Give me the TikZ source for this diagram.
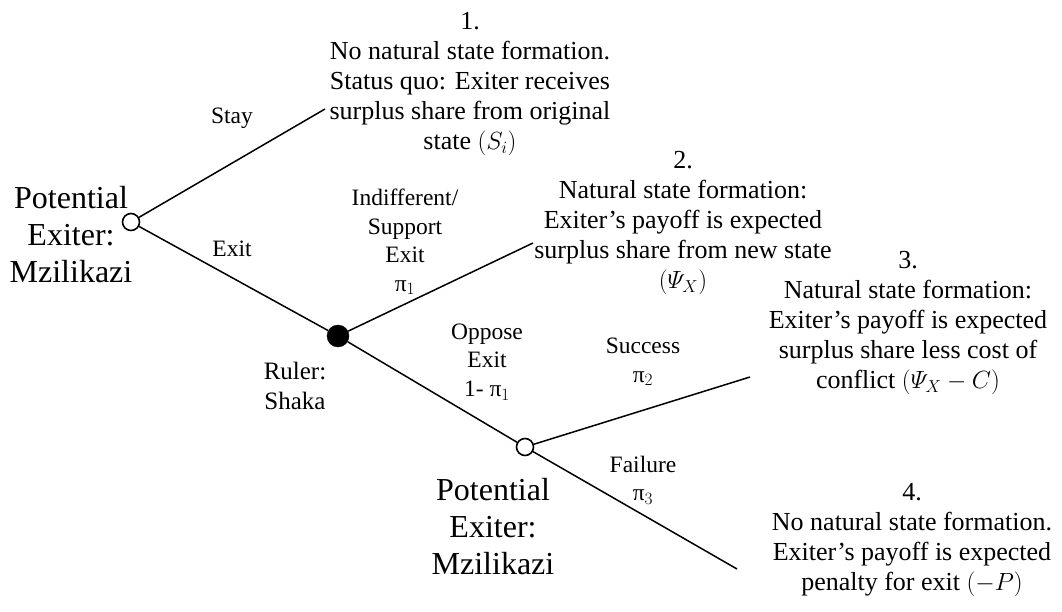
\documentclass[tikz,border=0pt]{standalone}
\usepackage{amsmath}
\usepackage{fontspec}
\setmainfont{Liberation Serif}
\usetikzlibrary{positioning}

\begin{document}
\begin{tikzpicture}[
    x=1pt, y=-1pt,
    exiter/.style={
        draw,
        circle,
        line width=1.6pt,
        fill=white,
        inner sep=0pt,
        minimum size=17pt
    },
    ruler/.style={
        draw,
        circle,
        fill=black,
        inner sep=0pt,
        minimum size=22pt
    },
    branch/.style={
        line width=1.5pt
    },
    player/.style={
        align=center,
        font=\fontsize{32}{37}\selectfont
    },
    move/.style={
        align=center,
        font=\fontsize{23.5}{28.5}\selectfont
    },
    payoff/.style={
        align=center,
        font=\fontsize{26}{30}\selectfont
    }
]
\useasboundingbox (0,0) rectangle (1062,612);

% Decision nodes
\node[exiter] (n1) at (131, 222) {};
\node[ruler] (n2) at (338, 336) {};
\node[exiter] (n3) at (525, 447) {};

% Branch ends
\coordinate (e1) at (325, 109);
\coordinate (e2) at (533, 243);
\coordinate (e3) at (750, 377);
\coordinate (e4) at (737, 569);

% Branches
\draw[branch] (n1) -- (e1);
\draw[branch] (n1) -- (n2);
\draw[branch] (n2) -- (e2);
\draw[branch] (n2) -- (n3);
\draw[branch] (n3) -- (e3);
\draw[branch] (n3) -- (e4);

% Players
\node[player] (p1) at (71, 235) {Potential\\Exiter:\\Mzilikazi};
\node[move, font=\fontsize{25}{30}\selectfont] (p2) at (295, 386) {Ruler:\\Shaka};
\node[player] (p3) at (493, 527) {Potential\\Exiter:\\Mzilikazi};

% Moves
\node[move] (m1) at (232, 118) {Stay};
\node[move] (m2) at (232, 249) {Exit};
\node[move] (m3) at (405, 242) {Indifferent/\\Support\\Exit\\π$_1$};
\node[move] (m4) at (487, 362) {Oppose\\Exit\\1- π$_1$};
\node[move] (m5) at (643, 362) {Success\\π$_2$};
\node[move] (m6) at (643, 480) {Failure\\π$_3$};

% Payoffs
\node[payoff] (o1) at (470, 84) {1.\\No natural state formation.\\Status quo: Exiter receives\\surplus share from original\\state $(S_i)$};
\node[payoff] (o2) at (683, 223) {2.\\Natural state formation:\\Exiter’s payoff is expected\\surplus share from new state\\$(\varPsi_X)$};
\node[payoff] (o3) at (908, 323) {3.\\Natural state formation:\\Exiter’s payoff is expected\\surplus share less cost of\\conflict $(\varPsi_X - C)$};
\node[payoff] (o4) at (912, 540) {4.\\No natural state formation.\\Exiter’s payoff is expected\\penalty for exit $(-P)$};

\end{tikzpicture}
\end{document}
